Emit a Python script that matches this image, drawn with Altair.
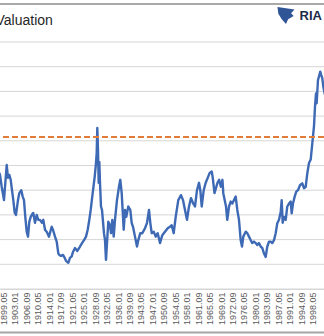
import altair as alt
import pandas as pd

# ---- data (decimal year, CAPE-like valuation) ----
years = [1897.9, 1898.21, 1898.75, 1899.49, 1899.91, 1900.36, 1900.77, 1901.19, 1901.64, 1902.05,
         1902.47, 1902.92, 1903.33, 1903.97, 1904.39, 1905.03, 1905.48, 1905.89, 1906.31, 1906.76,
         1907.18, 1907.59, 1908.04, 1908.68, 1908.87, 1909.42, 1909.96, 1910.47, 1911.0, 1911.66,
         1912.08, 1912.62, 1913.26, 1913.9, 1914.76, 1915.18, 1915.82, 1916.37, 1916.88, 1917.2,
         1917.74, 1918.38, 1918.93, 1919.34, 1920.08, 1920.62, 1921.17, 1921.58, 1922.22, 1922.96,
         1923.83, 1924.47, 1925.11, 1925.75, 1926.29, 1926.71, 1927.25, 1927.89, 1928.53, 1928.95,
         1929.17, 1929.37, 1929.59, 1929.81, 1930.01, 1930.23, 1930.55, 1930.87, 1931.51, 1931.83,
         1932.15, 1932.47, 1932.89, 1933.43, 1933.75, 1934.17, 1934.62, 1935.03, 1935.67, 1936.31,
         1936.73, 1937.18, 1937.6, 1937.82, 1938.24, 1938.65, 1939.29, 1939.93, 1940.38, 1940.8,
         1941.44, 1942.08, 1942.5, 1943.14, 1943.78, 1944.64, 1945.28, 1945.92, 1946.34, 1946.78,
         1947.43, 1948.07, 1948.71, 1949.44, 1950.18, 1951.04, 1951.91, 1952.65, 1953.19, 1953.83,
         1954.47, 1955.3, 1956.17, 1956.81, 1957.45, 1958.09, 1958.73, 1959.37, 1960.01, 1960.65,
         1961.29, 1961.93, 1962.35, 1962.8, 1963.44, 1964.08, 1964.72, 1965.36, 1966.0, 1966.3,
         1966.9, 1967.85, 1968.38, 1968.92, 1969.44, 1969.71, 1970.58, 1970.99, 1971.54, 1972.08,
         1972.6, 1973.68, 1974.2, 1974.74, 1975.28, 1975.7, 1976.12, 1976.88, 1977.4, 1977.94,
         1978.48, 1979.0, 1979.54, 1980.09, 1980.6, 1981.14, 1981.69, 1982.2, 1982.74, 1983.29,
         1983.8, 1984.35, 1984.89, 1985.4, 1985.95, 1986.49, 1987.0, 1987.55, 1988.09, 1988.41,
         1988.73, 1989.15, 1989.69, 1990.2, 1990.75, 1991.29, 1991.61, 1992.03, 1992.57, 1993.08,
         1993.63, 1994.27, 1995.0, 1995.55, 1996.1, 1996.61, 1997.16, 1997.7, 1998.21, 1998.75,
         1999.08, 1999.4, 1999.61, 2000.03, 2000.35, 2000.77, 2001.09, 2001.41, 2001.73, 2002.27]
cape = [23.6, 23.1, 20.7, 18.0, 21.5, 25.1, 22.5, 23.1, 22.1, 20.0,
        18.0, 15.4, 15.0, 18.0, 19.4, 20.0, 18.7, 18.0, 14.6, 11.6,
        10.6, 13.6, 14.6, 15.3, 15.4, 13.4, 15.0, 14.0, 14.0, 13.4,
        14.0, 12.0, 11.5, 10.6, 12.6, 12.0, 10.6, 9.6, 7.2, 6.9,
        6.7, 6.9, 6.3, 5.7, 5.3, 6.3, 6.6, 7.5, 8.3, 7.7,
        8.6, 9.3, 9.9, 10.6, 12.0, 13.6, 16.0, 19.4, 22.7, 25.5,
        27.5, 32.6, 28.1, 21.5, 25.7, 21.5, 16.7, 16.0, 11.3, 9.9,
        5.9, 9.3, 13.6, 12.9, 11.3, 14.0, 10.6, 14.0, 18.0, 20.7,
        22.1, 19.4, 14.6, 12.0, 16.0, 14.6, 16.7, 16.0, 13.4, 12.6,
        10.6, 8.6, 9.9, 11.3, 11.3, 12.3, 13.4, 16.0, 13.4, 11.3,
        11.6, 10.6, 11.3, 9.3, 10.9, 11.6, 12.3, 12.6, 12.9, 11.3,
        14.6, 18.0, 19.0, 18.0, 16.0, 14.0, 16.7, 18.4, 17.4, 16.7,
        20.0, 21.5, 20.0, 16.7, 20.0, 21.5, 22.5, 23.5, 23.8, 22.7,
        19.4, 21.5, 22.1, 20.7, 22.1, 19.4, 16.7, 14.0, 16.7, 17.7,
        17.3, 18.7, 16.0, 14.0, 9.9, 8.6, 10.6, 11.6, 11.3, 10.6,
        9.9, 9.3, 9.6, 9.3, 8.9, 9.3, 8.6, 8.3, 7.2, 6.5,
        8.6, 9.6, 9.6, 9.3, 9.9, 11.3, 13.3, 14.0, 15.6, 18.0,
        13.4, 14.6, 14.0, 16.7, 17.3, 17.7, 15.3, 17.3, 18.7, 19.7,
        20.0, 21.0, 21.4, 20.4, 20.7, 23.4, 25.5, 26.2, 29.5, 32.9,
        36.9, 39.6, 37.6, 42.3, 43.0, 44.0, 43.3, 42.7, 41.0, 39.3]
tick_labels = ["1899.05", "1903.01", "1906.09", "1910.05", "1914.01", "1917.09", "1921.05",
               "1925.01", "1928.09", "1932.05", "1936.01", "1939.09", "1943.05", "1947.01",
               "1950.09", "1954.05", "1958.01", "1961.09", "1965.05", "1969.01", "1972.09",
               "1976.05", "1980.01", "1983.09", "1987.05", "1991.01", "1994.09", "1998.05"]
grid_values = [0, 5, 10, 15, 20, 25, 30, 35, 40, 45, 50]
threshold = [30.75]
title_text = ["Valuation"]
logo_text = ["RIA"]

tick_pos = [int(s[:4]) + (int(s[5:]) - 1) / 12 for s in tick_labels]

W, H = 324, 247
x_scale = alt.Scale(domain=[1898.21, 2001.96], nice=False, zero=False)
y_scale = alt.Scale(domain=[0, 50], nice=False, zero=True)

label_expr = ("floor(datum.value + 0.001) + '.' + "
              "(round((datum.value - floor(datum.value + 0.001)) * 12) < 9 ? '0' : '') + "
              "(round((datum.value - floor(datum.value + 0.001)) * 12) + 1)")

df = pd.DataFrame({"year": years, "cape": cape})

grid = alt.Chart(pd.DataFrame({"g": grid_values})).mark_rule(
    color="#d6d6d6", strokeWidth=1
).encode(y=alt.Y("g:Q", scale=y_scale, axis=None))

line = alt.Chart(df).mark_line(
    color="#3e6ab5", strokeWidth=2.4, clip=True, strokeJoin="round"
).encode(
    x=alt.X("year:Q", scale=x_scale,
            axis=alt.Axis(values=tick_pos, labelExpr=label_expr, labelAngle=270,
                          labelFont="Liberation Sans", labelFontSize=9, labelColor="#595959",
                          labelPadding=3, labelOverlap=False, labelFlush=False, labelBound=False,
                          ticks=False, tickSize=0, grid=False, domain=True,
                          domainColor="#d6d6d6", domainWidth=1, title=None)),
    y=alt.Y("cape:Q", scale=y_scale, axis=None),
)

rule = alt.Chart(pd.DataFrame({"v": threshold})).mark_rule(
    color="#e07b39", strokeDash=[6, 3], strokeWidth=2
).encode(y=alt.Y("v:Q", scale=y_scale))

title = alt.Chart(pd.DataFrame({"t": title_text})).mark_text(
    align="left", baseline="alphabetic", font="Liberation Sans", fontSize=14, color="#262626"
).encode(text="t:N", x=alt.value(-4.5), y=alt.value(-17.5))

logo = alt.Chart(pd.DataFrame({"t": logo_text})).mark_text(
    align="left", baseline="alphabetic", font="Liberation Sans", fontSize=13,
    fontWeight="bold", color="#1c2b4b"
).encode(text="t:N", x=alt.value(299.5), y=alt.value(-22))

icon = alt.Chart(pd.DataFrame({"t": logo_text})).mark_point(
    shape="M -1 -1 L 1 -0.7 L 0.6 -0.25 L 0.9 0.05 L 0.25 0.45 L 0 1 L -0.5 0.45 L -0.9 -0.2 Z",
    filled=True, color="#2f5597", opacity=1, size=290
).encode(x=alt.value(286), y=alt.value(-26.5))

top_border = alt.Chart(pd.DataFrame({"t": [0]})).mark_rule(
    color="#8c8c8c", strokeWidth=1.5
).encode(x=alt.value(0), x2=alt.value(W), y=alt.value(-38))

bottom_border = alt.Chart(pd.DataFrame({"t": [0]})).mark_rule(
    color="#a6a6a6", strokeWidth=2
).encode(x=alt.value(0), x2=alt.value(W), y=alt.value(290.5))

chart = alt.layer(grid, line, rule, title, logo, icon, top_border, bottom_border).properties(
    width=W, height=H,
    padding={"left": 0, "top": 42, "right": 0, "bottom": 47},
    autosize=alt.AutoSizeParams(type="none"),
    background="white",
).configure_view(stroke=None)

chart.save("out.html", embed_options={"renderer": "svg", "actions": False})
